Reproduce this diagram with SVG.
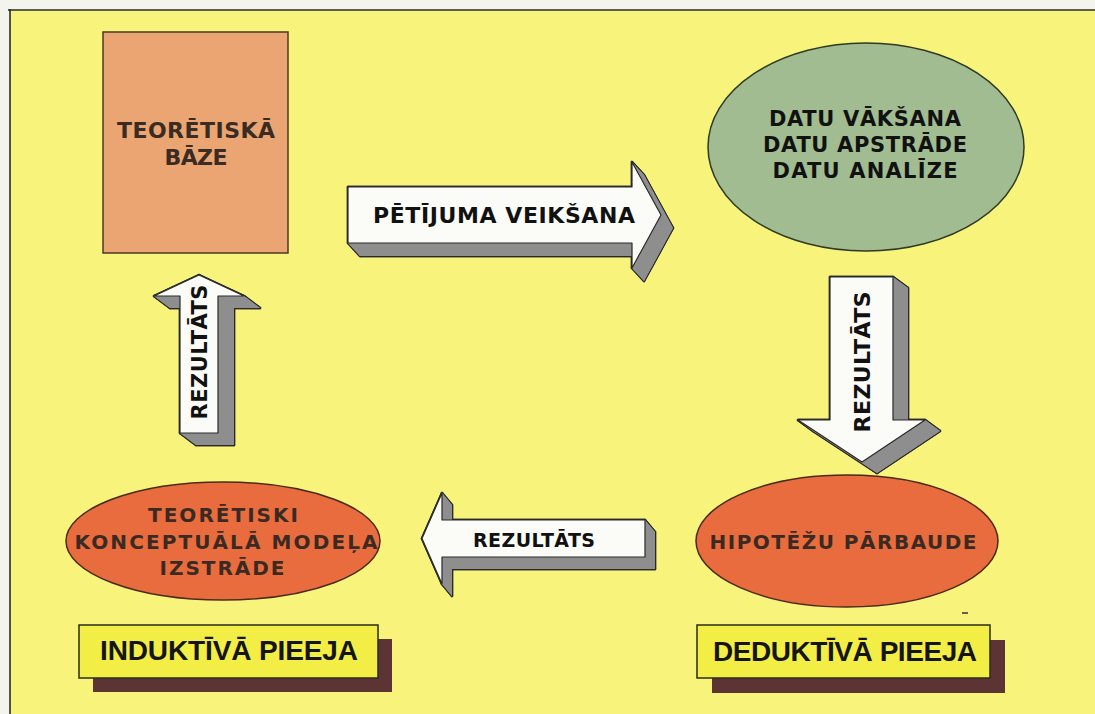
<svg xmlns="http://www.w3.org/2000/svg" xmlns:xlink="http://www.w3.org/1999/xlink" width="1095" height="714" viewBox="0 0 1095 714">
<style>
.nt{font-family:"DejaVu Sans","Verdana",sans-serif;font-weight:bold;text-anchor:middle}
.lb{font-family:"Liberation Sans",Arial,sans-serif;font-weight:bold;text-anchor:middle;fill:#151515}
.ol{fill:#8e8e8e;stroke:#2a2a2a;stroke-width:2.4;stroke-linejoin:round}
.fl{fill:#8e8e8e;stroke:none}
.front{fill:#fbfbf8;stroke:#2a2a2a;stroke-width:1.2;stroke-linejoin:round}
.shadow{fill:#5c3434}
.lbox{fill:#f3ee45;stroke:#2a2a20;stroke-width:1.5}
</style>
<defs>
<g id="xA">
<polygon points="348,187 632,187 632,162 661,215 632,268 632,243 348,243"/>
<polygon points="360,200 644,200 644,175 673,228 644,281 644,256 360,256"/>
<polygon points="348,187 632,187 644,200 360,200"/>
<polygon points="632,187 632,162 644,175 644,200"/>
<polygon points="632,162 661,215 673,228 644,175"/>
<polygon points="661,215 632,268 644,281 673,228"/>
<polygon points="632,268 632,243 644,256 644,281"/>
<polygon points="632,243 348,243 360,256 644,256"/>
<polygon points="348,243 348,187 360,200 360,256"/>
</g>
<polygon id="pA" points="348,187 632,187 632,162 661,215 632,268 632,243 348,243"/>
<g id="xB">
<polygon points="830,277 893,277 893,420 925,420 862,462 798,420 830,420"/>
<polygon points="845,288 908,288 908,431 940,431 877,473 813,431 845,431"/>
<polygon points="830,277 893,277 908,288 845,288"/>
<polygon points="893,277 893,420 908,431 908,288"/>
<polygon points="893,420 925,420 940,431 908,431"/>
<polygon points="925,420 862,462 877,473 940,431"/>
<polygon points="862,462 798,420 813,431 877,473"/>
<polygon points="798,420 830,420 845,431 813,431"/>
<polygon points="830,420 830,277 845,288 845,431"/>
</g>
<polygon id="pB" points="830,277 893,277 893,420 925,420 862,462 798,420 830,420"/>
<g id="xC">
<polygon points="645,520 442,520 442,493 422,538.5 442,584 442,557 645,557"/>
<polygon points="655,532 452,532 452,505 432,550.5 452,596 452,569 655,569"/>
<polygon points="645,520 442,520 452,532 655,532"/>
<polygon points="442,520 442,493 452,505 452,532"/>
<polygon points="442,493 422,538.5 432,550.5 452,505"/>
<polygon points="422,538.5 442,584 452,596 432,550.5"/>
<polygon points="442,584 442,557 452,569 452,596"/>
<polygon points="442,557 645,557 655,569 452,569"/>
<polygon points="645,557 645,520 655,532 655,569"/>
</g>
<polygon id="pC" points="645,520 442,520 442,493 422,538.5 442,584 442,557 645,557"/>
<g id="xD">
<polygon points="199,275 244,296 218,296 218,433 180,433 180,296 154,296"/>
<polygon points="215,287 260,308 234,308 234,445 196,445 196,308 170,308"/>
<polygon points="199,275 244,296 260,308 215,287"/>
<polygon points="244,296 218,296 234,308 260,308"/>
<polygon points="218,296 218,433 234,445 234,308"/>
<polygon points="218,433 180,433 196,445 234,445"/>
<polygon points="180,433 180,296 196,308 196,445"/>
<polygon points="180,296 154,296 170,308 196,308"/>
<polygon points="154,296 199,275 215,287 170,308"/>
</g>
<polygon id="pD" points="199,275 244,296 218,296 218,433 180,433 180,296 154,296"/>
</defs>

<rect x="0" y="0" width="1095" height="714" fill="#f4f4ee"/>
<rect x="10" y="10" width="1085" height="704" fill="#f7f37b"/>
<line x1="8" y1="10" x2="1095" y2="10" stroke="#2a2a2a" stroke-width="1.6"/>
<line x1="10" y1="9" x2="10" y2="714" stroke="#2a2a2a" stroke-width="1.6"/>

<g id="connectors">
  <g id="arrow-petijums">
    <use xlink:href="#xA" href="#xA" class="ol"/>
    <use xlink:href="#xA" href="#xA" class="fl"/>
    <use xlink:href="#pA" href="#pA" class="front"/>
    <text class="nt" x="504" y="223" font-size="22" textLength="262" lengthAdjust="spacing" fill="#111">PĒTĪJUMA VEIKŠANA</text>
  </g>
  <g id="arrow-down">
    <use xlink:href="#xB" href="#xB" class="ol"/>
    <use xlink:href="#xB" href="#xB" class="fl"/>
    <use xlink:href="#pB" href="#pB" class="front"/>
    <text class="nt" transform="translate(870,362) rotate(-90)" x="0" y="0" font-size="22" textLength="141" lengthAdjust="spacing" fill="#111">REZULTĀTS</text>
  </g>
  <g id="arrow-left">
    <use xlink:href="#xC" href="#xC" class="ol"/>
    <use xlink:href="#xC" href="#xC" class="fl"/>
    <use xlink:href="#pC" href="#pC" class="front"/>
    <text class="nt" x="534" y="547" font-size="19" textLength="122" lengthAdjust="spacing" fill="#111">REZULTĀTS</text>
  </g>
  <g id="arrow-up">
    <use xlink:href="#xD" href="#xD" class="ol"/>
    <use xlink:href="#xD" href="#xD" class="fl"/>
    <use xlink:href="#pD" href="#pD" class="front"/>
    <text class="nt" transform="translate(207,352) rotate(-90)" x="0" y="0" font-size="21" textLength="135" lengthAdjust="spacing" fill="#111">REZULTĀTS</text>
  </g>
</g>

<g id="node-teoretiska-baze">
  <rect x="103" y="32" width="185" height="221" fill="#eaa572" stroke="#4a3a2a" stroke-width="1.5"/>
  <text class="nt" x="196" y="138" font-size="22" textLength="158" lengthAdjust="spacing" fill="#3a2c22">TEORĒTISKĀ</text>
  <text class="nt" x="196" y="165" font-size="22" textLength="63" lengthAdjust="spacing" fill="#3a2c22">BĀZE</text>
</g>

<g id="node-datu">
  <ellipse cx="866" cy="147" rx="158" ry="104" fill="#a0bc90" stroke="#2e3a22" stroke-width="1.5"/>
  <text class="nt" x="865" y="126" font-size="21" textLength="192" lengthAdjust="spacing" fill="#111">DATU VĀKŠANA</text>
  <text class="nt" x="865" y="152" font-size="21" textLength="204" lengthAdjust="spacing" fill="#111">DATU APSTRĀDE</text>
  <text class="nt" x="865" y="178" font-size="21" textLength="185" lengthAdjust="spacing" fill="#111">DATU ANALĪZE</text>
</g>

<g id="node-hipotezu">
  <ellipse cx="847" cy="541" rx="151" ry="66" fill="#e86c3e" stroke="#4a2a1a" stroke-width="1.5"/>
  <text class="nt" x="843" y="549" font-size="20" textLength="267" lengthAdjust="spacing" fill="#3a2a22">HIPOTĒŽU PĀRBAUDE</text>
</g>

<g id="node-modela">
  <ellipse cx="223" cy="541" rx="157" ry="59" fill="#e86c3e" stroke="#4a2a1a" stroke-width="1.5"/>
  <text class="nt" x="223" y="522" font-size="20" textLength="150" lengthAdjust="spacing" fill="#3a2a22">TEORĒTISKI</text>
  <text class="nt" x="226" y="549" font-size="20" textLength="303" lengthAdjust="spacing" fill="#3a2a22">KONCEPTUĀLĀ MODEĻA</text>
  <text class="nt" x="222" y="575" font-size="20" textLength="125" lengthAdjust="spacing" fill="#3a2a22">IZSTRĀDE</text>
</g>

<g id="label-induktiva">
  <rect class="shadow" x="93" y="639" width="299" height="53"/>
  <rect class="lbox" x="79" y="625" width="299" height="53"/>
  <text class="lb" x="229" y="660" font-size="28" textLength="258" lengthAdjust="spacing">INDUKTĪVĀ PIEEJA</text>
</g>

<g id="label-deduktiva">
  <rect class="shadow" x="712" y="640" width="293" height="53"/>
  <rect class="lbox" x="697" y="625" width="293" height="53"/>
  <text class="lb" x="845" y="661" font-size="28" textLength="264" lengthAdjust="spacing">DEDUKTĪVĀ PIEEJA</text>
</g>

<line x1="962" y1="613" x2="968" y2="613" stroke="#333" stroke-width="1.5"/>
</svg>
